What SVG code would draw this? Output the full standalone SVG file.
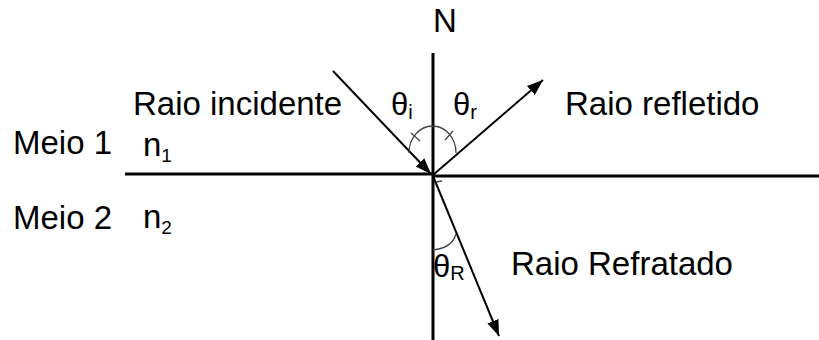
<svg xmlns="http://www.w3.org/2000/svg" width="819" height="340" viewBox="0 0 819 340">
<defs>
<style>
text{font-family:"Liberation Sans",Arial,sans-serif;fill:#000}
.lbl{font-size:33px}
.th{font-size:31px}
.sub{font-size:20px}
.nsub{font-size:19px}
.axis{stroke:#000;stroke-width:3;fill:none}
.ray{stroke:#000;stroke-width:2;fill:none}
.arc{stroke:#444;stroke-width:1.3;fill:none}
</style>
<marker id="ah" markerUnits="userSpaceOnUse" markerWidth="18" markerHeight="14" refX="16" refY="6" orient="auto">
<path d="M0,0 L16,6 L0,12 z" fill="#000"/>
</marker>
</defs>
<rect width="819" height="340" fill="#fff"/>
<g id="connectors">
<line class="axis" x1="433" y1="53" x2="433" y2="340"/>
<line class="axis" x1="125" y1="174" x2="433" y2="174"/>
<line class="axis" x1="433" y1="176" x2="819" y2="176"/>
<line class="ray" x1="333" y1="71" x2="431" y2="174" marker-end="url(#ah)"/>
<line class="ray" x1="433" y1="175" x2="543" y2="80" marker-end="url(#ah)"/>
<line class="ray" x1="433" y1="176" x2="499" y2="336" marker-end="url(#ah)"/>
</g>
<g id="angles">
<path class="arc" d="M409,153 A23.5,27 0 0 1 456,153"/>
<line class="arc" x1="411" y1="133" x2="420" y2="141"/>
<line class="arc" x1="445" y1="140" x2="453" y2="131"/>
<path class="arc" d="M433,250 Q452,248 456,234"/>
<line class="arc" x1="436" y1="182" x2="442" y2="181"/>
</g>
<g id="node-N"><text class="lbl" x="433" y="32">N</text></g>
<g id="node-incidente"><text class="lbl" x="133" y="115">Raio incidente</text></g>
<g id="node-refletido"><text class="lbl" x="565" y="115">Raio refletido</text></g>
<g id="node-refratado"><text class="lbl" x="511" y="275">Raio Refratado</text></g>
<g id="node-meio1"><text class="lbl" x="13" y="154">Meio 1</text><text class="lbl" x="143" y="156">n<tspan class="nsub" dy="6">1</tspan></text></g>
<g id="node-meio2"><text class="lbl" x="13" y="229">Meio 2</text><text class="lbl" x="143" y="228">n<tspan class="nsub" dy="6">2</tspan></text></g>
<g id="node-thi"><text class="th" x="391" y="115">θ<tspan class="sub" dy="4">i</tspan></text></g>
<g id="node-thr"><text class="th" x="453" y="115">θ<tspan class="sub" dy="4">r</tspan></text></g>
<g id="node-thR"><text class="th" x="433" y="277">θ<tspan class="sub" dy="3">R</tspan></text></g>
</svg>
